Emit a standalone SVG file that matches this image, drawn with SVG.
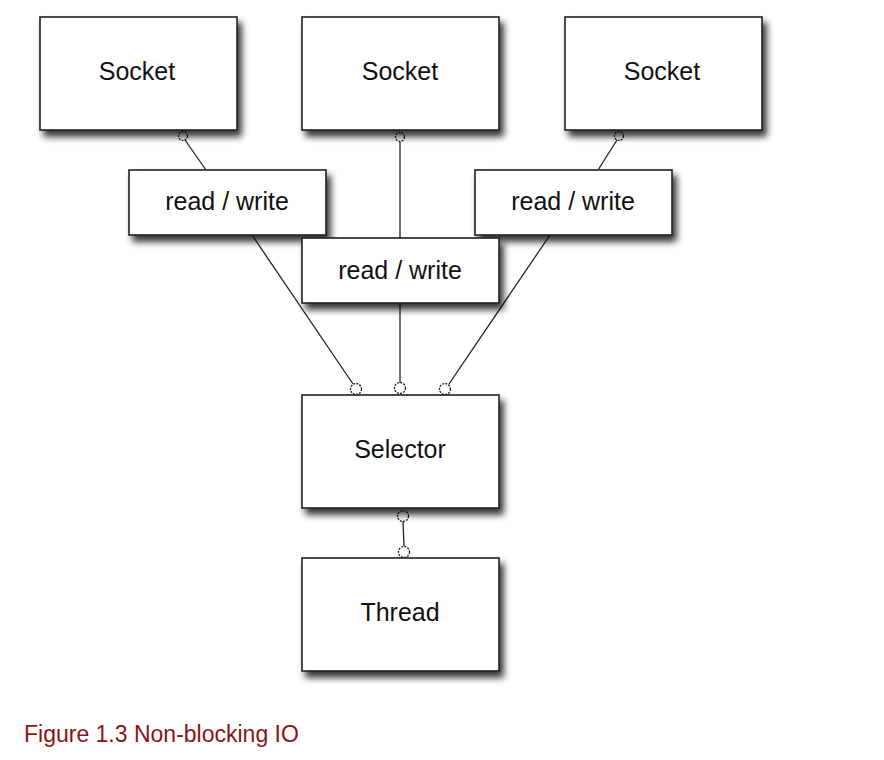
<svg xmlns="http://www.w3.org/2000/svg" width="884" height="760" viewBox="0 0 884 760">
<defs>
<filter id="sh" x="-20%" y="-20%" width="150%" height="160%">
<feGaussianBlur in="SourceAlpha" stdDeviation="3.5"/>
<feOffset dx="4" dy="6" result="b"/>
<feComponentTransfer><feFuncA type="linear" slope="0.8"/></feComponentTransfer>
<feMerge><feMergeNode/><feMergeNode in="SourceGraphic"/></feMerge>
</filter>
</defs>
<style>
.box{fill:#fff;stroke:#222;stroke-width:1.6;filter:url(#sh)}
.t{font-family:"Liberation Sans",Arial,sans-serif;font-size:25px;fill:#111;text-anchor:middle}
.c{fill:none;stroke:#222;stroke-width:1.3}
.e{fill:#fff;stroke:#222;stroke-width:1.3;stroke-dasharray:2 1.2}
</style>
<rect width="884" height="760" fill="#fff"/>
<g id="connectors">
<line class="c" x1="185" y1="140" x2="206" y2="170"/>
<line class="c" x1="400" y1="142" x2="400" y2="238"/>
<line class="c" x1="617" y1="140" x2="598" y2="170"/>
<line class="c" x1="252" y1="235" x2="353" y2="384"/>
<line class="c" x1="400" y1="303" x2="400" y2="383"/>
<line class="c" x1="550" y1="235" x2="449" y2="384"/>
<line class="c" x1="403" y1="521" x2="404" y2="546"/>
<circle class="e" cx="183" cy="136" r="4.5"/>
<circle class="e" cx="400" cy="137" r="4.5"/>
<circle class="e" cx="619" cy="136" r="4.5"/>
<circle class="e" cx="356" cy="389" r="5.5"/>
<circle class="e" cx="400" cy="388" r="5.5"/>
<circle class="e" cx="445" cy="389" r="5.5"/>
<circle class="e" cx="403" cy="516" r="5.5"/>
<circle class="e" cx="404" cy="552" r="5.5"/>
</g>
<g id="socket1"><rect class="box" x="40" y="17" width="197" height="113"/><text class="t" x="137" y="80">Socket</text></g>
<g id="socket2"><rect class="box" x="302" y="17" width="197" height="113"/><text class="t" x="400" y="80">Socket</text></g>
<g id="socket3"><rect class="box" x="565" y="17" width="197" height="113"/><text class="t" x="662" y="80">Socket</text></g>
<g id="rw1"><rect class="box" x="129" y="170" width="197" height="65"/><text class="t" x="227" y="210">read / write</text></g>
<g id="rw3"><rect class="box" x="475" y="170" width="197" height="65"/><text class="t" x="573" y="210">read / write</text></g>
<g id="rw2"><rect class="box" x="302" y="238" width="197" height="65"/><text class="t" x="400" y="279">read / write</text></g>
<g id="selector"><rect class="box" x="302" y="395" width="197" height="113"/><text class="t" x="400" y="458">Selector</text></g>
<g id="thread"><rect class="box" x="302" y="558" width="197" height="113"/><text class="t" x="400" y="621">Thread</text></g>
<text x="24" y="742" style="font-family:'Liberation Sans',Arial,sans-serif;font-size:23px;fill:#8b1414">Figure 1.3 Non-blocking IO</text>
</svg>
